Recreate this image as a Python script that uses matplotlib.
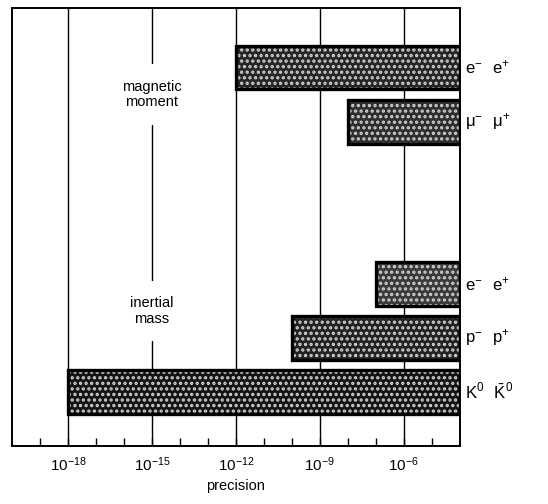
import numpy as np
import matplotlib.pyplot as plt

plt.rcParams['font.family'] = ['Liberation Sans', 'DejaVu Sans']
plt.rcParams['mathtext.default'] = 'regular'
plt.rcParams['hatch.linewidth'] = 1.6

# ---- data -------------------------------------------------
particles = [r'$e^{-}\ \ e^{+}$', r'$\mu^{-}\ \ \mu^{+}$',
             r'$e^{-}\ \ e^{+}$', r'$p^{-}\ \ p^{+}$',
             r'$K^{0}\ \ \bar{K}^{0}$']
row_pos   = [7, 6, 3, 2, 1]
low_exp   = [-12, -8, -7, -10, -18]     # best precision reached (log10)
high_exp  = [-4, -4, -4, -4, -4]
tones     = ['#262626', '#2e2e2e', '#3a3a3a', '#222222', '#141414']

groups     = ['magnetic\nmoment', 'inertial\nmass']
group_pos  = [6.5, 2.5]

grid_exp   = [-18, -15, -12, -9, -6]
tick_exp   = list(range(-19, -4))

# ---- figure -----------------------------------------------
fig = plt.figure(figsize=(5.48, 5.04), dpi=100)
ax = fig.add_axes([0.022, 0.115, 0.817, 0.869])
ax.set_xscale('log')
ax.set_xlim(1e-20, 1e-4)
ax.set_ylim(0, 8.1)

for e in grid_exp:
    ax.axvline(10.0**e, color='black', lw=1.0, zorder=1)

left  = [10.0**a for a in low_exp]
width = [10.0**b - 10.0**a for a, b in zip(low_exp, high_exp)]
ax.barh(row_pos, width, left=left, height=0.81, color=tones,
        edgecolor='#d0d0d0', hatch='...', linewidth=0, zorder=2)
ax.barh(row_pos, width, left=left, height=0.81, color='none',
        edgecolor='black', linewidth=2.4, zorder=3)

for name, y in zip(particles, row_pos):
    ax.text(1.5e-4, y, name, fontsize=12, va='center', ha='left',
            clip_on=False)

for g, y in zip(groups, group_pos):
    ax.text(1e-15, y, g, fontsize=10.5, ha='center', va='center',
            linespacing=1.15, zorder=4,
            bbox=dict(facecolor='white', edgecolor='none', pad=11))

ax.set_yticks([])
ax.set_xticks([10.0**e for e in tick_exp])
ax.set_xticklabels([r'$10^{%d}$' % e if e in grid_exp else '' for e in tick_exp],
                   fontsize=11)
ax.minorticks_off()
ax.tick_params(axis='x', direction='in', length=6, width=1, pad=7)
ax.set_xlabel('precision', fontsize=10.5, labelpad=3)

for s in ax.spines.values():
    s.set_linewidth(1.4)

plt.savefig('out.png', dpi=100)
